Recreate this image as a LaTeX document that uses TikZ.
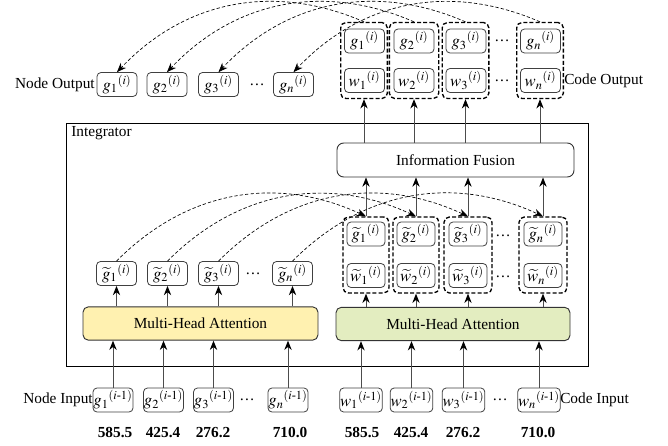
\documentclass[tikz,border=0pt]{standalone}
\usepackage{amsmath}
\usepackage{mathptmx}
\usepackage{fontspec}
\setmainfont{Liberation Serif}
\usetikzlibrary{arrows.meta}
\definecolor{mhayellow}{HTML}{FFF1B0}
\definecolor{mhagreen}{HTML}{E3EDC0}
\begin{document}
\begin{tikzpicture}[x=0.75pt,y=-0.75pt,font=\fontsize{11.5}{13}\selectfont,
  box/.style={draw=black!75,rounded corners=3pt,minimum width=30pt,minimum height=18pt,inner sep=0.3pt,line width=0.6pt,fill=white,font=\fontsize{12.5}{14}\selectfont},
  grp/.style={draw=black,rounded corners=4pt,line width=1pt,dash pattern=on 3pt off 1.6pt,minimum width=35pt,minimum height=57pt,inner sep=0pt},
  mha/.style={draw=black!80,rounded corners=4pt,line width=0.7pt,minimum height=25pt,inner sep=0pt},
  arr/.style={draw=black!70,line width=0.7pt,-{Stealth[length=7pt,width=5.5pt,black]}},
  darr/.style={draw=black,line width=0.5pt,dash pattern=on 2.5pt off 1.6pt,-{Stealth[length=7pt,width=5.5pt,black]}},
  lbl/.style={inner sep=0pt},
  num/.style={inner sep=0pt,font=\fontsize{11.5}{13}\selectfont\bfseries}]
\useasboundingbox (0,0) rectangle (668,446);

% Integrator
\node[draw,line width=0.6pt,minimum width=391.5pt,minimum height=182.25pt,inner sep=0pt] (integ) at (327,244.5) {};
\node[lbl,anchor=west] (integlbl) at (71,133) {Integrator};

% Node output row
\node[lbl,anchor=east] (nolbl) at (95,84.5) {Node Output};
\node[box] (no1) at (117,84.5) {$g_1{}^{(i)}$};
\node[box] (no2) at (167,84.5) {$g_2{}^{(i)}$};
\node[box] (no3) at (218.5,84.5) {$g_3{}^{(i)}$};
\node[lbl] (nodots) at (257,84.5) {\dots};
\node[box] (non) at (293.5,84.5) {$g_n{}^{(i)}$};

% Code output groups
\node[grp,minimum width=35pt] (cg1) at (364,60.5) {};
\node[grp,minimum width=37pt] (cg2) at (414,60.5) {};
\node[grp,minimum width=35pt] (cg3) at (465.5,60.5) {};
\node[grp,minimum width=35pt] (cgn) at (540,60.5) {};
\node[box] (og1) at (364.5,41) {$g_1{}^{(i)}$};
\node[box] (ow1) at (364.5,80.5) {$w_1{}^{(i)}$};
\node[box] (og2) at (414,41) {$g_2{}^{(i)}$};
\node[box] (ow2) at (414,80.5) {$w_2{}^{(i)}$};
\node[box] (og3) at (466,41) {$g_3{}^{(i)}$};
\node[box] (ow3) at (466,80.5) {$w_3{}^{(i)}$};
\node[box] (ogn) at (540.5,41) {$g_n{}^{(i)}$};
\node[box] (own) at (540.5,80.5) {$w_n{}^{(i)}$};
\node[lbl] (odots1) at (502,41) {\dots};
\node[lbl] (odots2) at (502,80.5) {\dots};
\node[lbl,anchor=west] (colbl) at (564,81) {Code Output};

% Information fusion
\node[draw=black!80,rounded corners=5pt,line width=0.7pt,fill=white,minimum width=177.75pt,minimum height=25.5pt,inner sep=0pt] (fus) at (455.5,160) {Information Fusion};

% Middle left
\node[box] (gt1) at (116.5,273.5) {$\widetilde{g}_1{}^{(i)}$};
\node[box] (gt2) at (167.5,273.5) {$\widetilde{g}_2{}^{(i)}$};
\node[box] (gt3) at (218.5,273.5) {$\widetilde{g}_3{}^{(i)}$};
\node[lbl] (gtdots) at (253,273.5) {\dots};
\node[box] (gtn) at (292.5,273.5) {$\widetilde{g}_n{}^{(i)}$};

% Middle right groups
\node[grp,minimum width=34.5pt] (rg1) at (366,255) {};
\node[grp,minimum width=34.5pt] (rg2) at (416,255) {};
\node[grp,minimum width=36pt] (rg3) at (468,255) {};
\node[grp,minimum width=36pt] (rgn) at (543,255) {};
\node[box,minimum width=28.5pt] (rgt1) at (366,234) {$\widetilde{g}_1{}^{(i)}$};
\node[box,minimum width=28.5pt] (rwt1) at (366,275.5) {$\widetilde{w}_1{}^{(i)}$};
\node[box,minimum width=28.5pt] (rgt2) at (416,234) {$\widetilde{g}_2{}^{(i)}$};
\node[box,minimum width=28.5pt] (rwt2) at (416,275.5) {$\widetilde{w}_2{}^{(i)}$};
\node[box,minimum width=28.5pt] (rgt3) at (468,234) {$\widetilde{g}_3{}^{(i)}$};
\node[box,minimum width=28.5pt] (rwt3) at (468,275.5) {$\widetilde{w}_3{}^{(i)}$};
\node[box,minimum width=28.5pt] (rgtn) at (543,234) {$\widetilde{g}_n{}^{(i)}$};
\node[box,minimum width=28.5pt] (rwtn) at (543,275.5) {$\widetilde{w}_n{}^{(i)}$};
\node[lbl] (rdots1) at (503,236) {\dots};
\node[lbl] (rdots2) at (503,277) {\dots};

% MHA
\node[mha,fill=mhayellow,minimum width=176.25pt] (mhal) at (200.5,323.5) {Multi-Head Attention};
\node[mha,fill=mhagreen,minimum width=175.5pt] (mhar) at (453,324) {Multi-Head Attention};

% Inputs
\node[lbl,anchor=east] (nilbl) at (93,400) {Node Input};
\node[box] (in1) at (113,400) {$g_1{}^{(i\text{-}1)}$};
\node[box] (in2) at (163.5,400) {$g_2{}^{(i\text{-}1)}$};
\node[box] (in3) at (213.5,400) {$g_3{}^{(i\text{-}1)}$};
\node[lbl] (indots) at (247,400) {\dots};
\node[box] (inn) at (288,400) {$g_n{}^{(i\text{-}1)}$};
\node[box] (iw1) at (361,400) {$w_1{}^{(i\text{-}1)}$};
\node[box] (iw2) at (411.5,400) {$w_2{}^{(i\text{-}1)}$};
\node[box] (iw3) at (463.5,400) {$w_3{}^{(i\text{-}1)}$};
\node[lbl] (iwdots) at (500,400) {\dots};
\node[box] (iwn) at (539,400) {$w_n{}^{(i\text{-}1)}$};
\node[lbl,anchor=west] (cilbl) at (560,400) {Code Input};

% Numbers
\node[num] (n1) at (115,433) {585.5};
\node[num] (n2) at (163,433) {425.4};
\node[num] (n3) at (213,433) {276.2};
\node[num] (n4) at (290,433) {710.0};
\node[num] (n5) at (362,433) {585.5};
\node[num] (n6) at (411,433) {425.4};
\node[num] (n7) at (463,433) {276.2};
\node[num] (n8) at (538,433) {710.0};

% Arrows: inputs -> MHA
\foreach \b in {in1,in2,in3,inn}
  \draw[arr] (\b.north) -- (\b.north |- mhal.south);
\foreach \b in {iw1,iw2,iw3,iwn}
  \draw[arr] (\b.north) -- (\b.north |- mhar.south);
% MHA -> tilde
\foreach \b in {gt1,gt2,gt3,gtn}
  \draw[arr] (\b.south |- mhal.north) -- (\b.south);
\foreach \b in {rg1,rg2,rg3,rgn}
  \draw[arr] (\b.south |- mhar.north) -- (\b.south);
% groups -> fusion
\foreach \b in {rg1,rg2,rg3,rgn}
  \draw[arr] (\b.north) -- (\b.north |- fus.south);
% fusion -> outputs
\foreach \b in {cg1,cg2,cg3,cgn}
  \draw[arr] (\b.south |- fus.north) -- (\b.south);

% dashed curves middle
\draw[darr] (gt1.north) to[bend left=35] (rg1.north);
\draw[darr] (gt2.north) to[bend left=35] (rg2.north);
\draw[darr] (gt3.north) to[bend left=35] (rg3.north);
\draw[darr] (gtn.north) to[bend left=35] (rgn.north);
% dashed curves top
\draw[darr] (cg1.north) to[bend right=35] (no1.north);
\draw[darr] (cg2.north) to[bend right=35] (no2.north);
\draw[darr] (cg3.north) to[bend right=35] (no3.north);
\draw[darr] (cgn.north) to[bend right=35] (non.north);
\end{tikzpicture}
\end{document}
